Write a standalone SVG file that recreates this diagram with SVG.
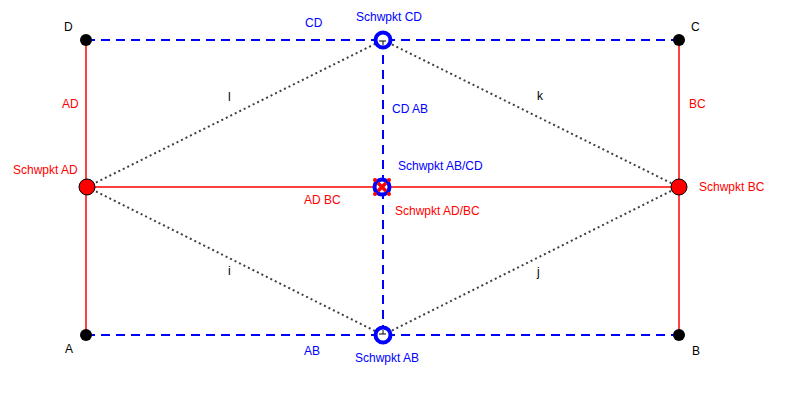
<svg xmlns="http://www.w3.org/2000/svg" width="800" height="415" viewBox="0 0 800 415">
<style>
text{font-family:"Liberation Sans",Arial,sans-serif;font-size:12px}
.k{fill:#000}.r{fill:#ff0000}.b{fill:#0000ff}
.red{stroke:#ff4040;stroke-width:2;fill:none}
.blue{stroke:#0000ff;stroke-width:2;stroke-dasharray:9,6;fill:none}
.dot{stroke:#404040;stroke-width:2;stroke-dasharray:2,3;fill:none}
.pt{fill:#000}
.mid{fill:#ff0000;stroke:#000;stroke-width:1}
.cen{fill:#fff;stroke:#0000ff;stroke-width:4}
</style>
<rect width="800" height="415" fill="#fff"/>
<g id="connectors">
<line class="dot" x1="87" y1="187" x2="383" y2="40"/>
<line class="dot" x1="383" y1="40" x2="679" y2="187"/>
<line class="dot" x1="87" y1="187" x2="383" y2="335"/>
<line class="dot" x1="383" y1="335" x2="679" y2="187"/>
<line class="red" x1="86" y1="40" x2="86" y2="335"/>
<line class="red" x1="679" y1="40" x2="679" y2="335"/>
<line class="red" x1="87" y1="187" x2="679" y2="187"/>
<line class="blue" x1="86" y1="40" x2="679" y2="40"/>
<line class="blue" x1="86" y1="335" x2="679" y2="335"/>
<line class="blue" x1="383" y1="40" x2="383" y2="335"/>
<text class="r" x="62" y="108">AD</text>
<text class="r" x="689" y="108">BC</text>
<text class="b" x="305" y="27">CD</text>
<text class="b" x="304" y="355">AB</text>
<text class="b" x="392" y="113">CD AB</text>
<text class="r" x="304" y="204">AD BC</text>
<text class="k" x="228" y="101">l</text>
<text class="k" x="537" y="100">k</text>
<text class="k" x="228" y="275">i</text>
<text class="k" x="537" y="276">j</text>
</g>
<g id="D"><circle class="pt" cx="86" cy="40" r="6"/><text class="k" x="64" y="31">D</text></g>
<g id="C"><circle class="pt" cx="679" cy="40" r="6"/><text class="k" x="691" y="31">C</text></g>
<g id="A"><circle class="pt" cx="86" cy="335" r="6"/><text class="k" x="65" y="353">A</text></g>
<g id="B"><circle class="pt" cx="679" cy="335" r="6"/><text class="k" x="692" y="355">B</text></g>
<g id="SchwpktAD"><circle class="mid" cx="87" cy="187" r="8"/><text class="r" x="13" y="174">Schwpkt AD</text></g>
<g id="SchwpktBC"><circle class="mid" cx="679" cy="187" r="8"/><text class="r" x="699" y="191">Schwpkt BC</text></g>
<g id="SchwpktCD"><circle class="cen" cx="383" cy="40" r="7.5"/><path d="M379 41H386M383 41V45" stroke="#000" stroke-width="1"/><text class="b" x="356" y="21">Schwpkt CD</text></g>
<g id="SchwpktAB"><circle class="cen" cx="383" cy="335" r="7.5"/><path d="M379 334H386M383 334V330" stroke="#000" stroke-width="1"/><text class="b" x="355" y="362">Schwpkt AB</text></g>
<g id="SchwpktCenter">
<circle class="cen" cx="382" cy="187" r="7.5"/>
<path d="M378 183L386 191M386 183L378 191" stroke="#ff0000" stroke-width="3.5"/>
<g fill="#ff0000"><circle cx="375" cy="180" r="2"/><circle cx="389" cy="180" r="2"/><circle cx="375" cy="194" r="2"/><circle cx="389" cy="194" r="2"/></g>
<text class="b" x="398" y="170">Schwpkt AB/CD</text>
<text class="r" x="395" y="215">Schwpkt AD/BC</text>
</g>
</svg>
